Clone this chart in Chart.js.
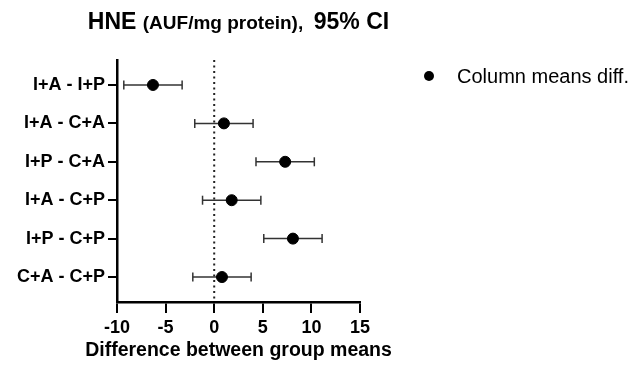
<!DOCTYPE html>
<html lang="en">
<head>
  <meta charset="UTF-8" />
  <title>HNE 95% CI</title>
  <script src="https://cdn.jsdelivr.net/npm/chart.js"></script>
  <style>
    html, body { margin: 0; padding: 0; background: #fff; }
    #wrap { width: 644px; height: 372px; }
  </style>
</head>
<body>
  <div id="wrap"><canvas id="ciChart"></canvas></div>

  <script>
    // data
    const comparisons = ['I+A - I+P', 'I+A - C+A', 'I+P - C+A', 'I+A - C+P', 'I+P - C+P', 'C+A - C+P'];
    const meanDiff = [-6.3, 1.0, 7.3, 1.8, 8.1, 0.8];
    const ciLower = [-9.3, -2.0, 4.3, -1.2, 5.1, -2.2];
    const ciUpper = [-3.3, 4.0, 10.3, 4.8, 11.1, 3.8];
    const xTicks = [-10, -5, 0, 5, 10, 15];
    const legendLabel = 'Column means diff.';
    const xTitle = 'Difference between group means';

    const FONT = "'Liberation Sans', Arial, sans-serif";

    const datasets = [{
      type: 'scatter',
      label: legendLabel,
      data: meanDiff.map((v, i) => ({ x: v, y: i })),
      backgroundColor: '#000',
      borderColor: '#000',
      pointRadius: 5.5,
      order: 0
    }];

    // one small line per row for the CI, with vertical caps
    comparisons.forEach((c, i) => {
      datasets.push({
        type: 'line',
        label: c + ' CI',
        data: [{ x: ciLower[i], y: i }, { x: ciUpper[i], y: i }],
        borderColor: '#333',
        borderWidth: 1.5,
        pointStyle: 'line',
        rotation: 90,
        pointRadius: 4.5,
        pointBorderWidth: 1.5,
        pointBorderColor: '#333',
        order: 1
      });
    });

    // dotted zero line
    datasets.push({
      type: 'line',
      label: 'zero',
      data: [{ x: 0, y: -0.65 }, { x: 0, y: comparisons.length - 0.35 }],
      borderColor: '#222',
      borderWidth: 2,
      borderDash: [2, 3.5],
      pointRadius: 0,
      order: 2
    });

    // title with mixed sizes, x title (no width squeeze) and legend
    const textPlugin = {
      id: 'extraText',
      afterDraw(chart) {
        const ctx = chart.ctx;
        const area = chart.chartArea;
        const midX = (area.left + area.right) / 2;
        const parts = [
          { t: 'HNE ', f: 'bold 23px ' + FONT },
          { t: '(AUF/mg protein),  ', f: 'bold 19px ' + FONT },
          { t: '95% CI', f: 'bold 23px ' + FONT }
        ];
        ctx.save();
        ctx.fillStyle = '#000';
        let total = 0;
        parts.forEach(p => { ctx.font = p.f; p.w = ctx.measureText(p.t).width; total += p.w; });
        let x = midX - total / 2;
        ctx.textBaseline = 'alphabetic';
        parts.forEach(p => { ctx.font = p.f; ctx.fillText(p.t, x, 29); x += p.w; });

        ctx.font = 'bold 19.5px ' + FONT;
        ctx.textAlign = 'center';
        ctx.fillText(xTitle, midX, 356);

        // legend
        const lx = area.right + 69;
        const ly = area.top + 16;
        ctx.beginPath();
        ctx.arc(lx, ly, 5, 0, Math.PI * 2);
        ctx.fill();
        ctx.font = '20px ' + FONT;
        ctx.textAlign = 'left';
        ctx.textBaseline = 'middle';
        ctx.fillText(legendLabel, lx + 28, ly + 1);
        ctx.restore();
      }
    };

    new Chart(document.getElementById('ciChart'), {
      data: { datasets: datasets },
      options: {
        responsive: true,
        maintainAspectRatio: false,
        animation: false,
        layout: { padding: { top: 60, right: 284, left: 0, bottom: 0 } },
        plugins: {
          legend: { display: false },
          tooltip: { enabled: false }
        },
        scales: {
          x: {
            type: 'linear',
            min: -10,
            max: 15,
            afterBuildTicks: s => { s.ticks = xTicks.map(v => ({ value: v })); },
            afterFit: s => { s.height = 70; },
            border: { display: true, color: '#000', width: 2.5 },
            grid: { drawOnChartArea: false, drawTicks: true, tickLength: 11, color: '#000', lineWidth: 2 },
            ticks: { color: '#000', padding: 4, font: { family: FONT, size: 18, weight: 'bold' } }
          },
          y: {
            type: 'linear',
            reverse: true,
            min: -0.65,
            max: comparisons.length - 0.35,
            afterBuildTicks: s => { s.ticks = comparisons.map((c, i) => ({ value: i })); },
            afterFit: s => { s.width = 117; },
            border: { display: true, color: '#000', width: 2.5 },
            grid: { drawOnChartArea: false, drawTicks: true, tickLength: 9, color: '#000', lineWidth: 2 },
            ticks: {
              color: '#000',
              padding: 3,
              font: { family: FONT, size: 18, weight: 'bold' },
              callback: v => comparisons[v]
            }
          }
        }
      },
      plugins: [textPlugin]
    });
  </script>
</body>
</html>
